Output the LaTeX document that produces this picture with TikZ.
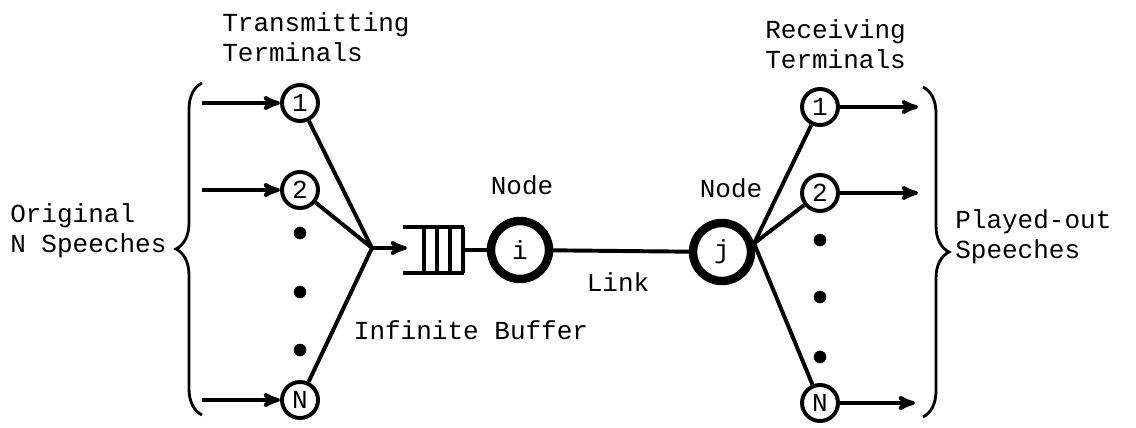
\documentclass[tikz,border=0pt]{standalone}
\usepackage{fontspec}
\setmonofont{Liberation Mono}
\usepackage{tikz}
\usetikzlibrary{calc}
\usetikzlibrary{arrows}
\usetikzlibrary{decorations.pathreplacing}
\tikzset{term/.style={draw,circle,line width=2.8pt,minimum size=0.9cm,inner sep=0pt},
  relay/.style={draw,circle,line width=6pt,minimum size=1.45cm,inner sep=0pt},
  lbl/.style={font=\ttfamily\fontsize{18.5}{21.3}\selectfont,inner sep=0pt},
  wire/.style={black,line width=2.8pt},
  curly/.style={black,line width=2pt,decorate,decoration={brace,amplitude=0.65cm}}}

\begin{document}
\begin{tikzpicture} [x=0.025cm,y=-0.025cm,lbl]
\useasboundingbox (0,0) rectangle (1136,427);
% transmitting side
\node[lbl,align=left,anchor=west] (ttxt) at (222,37) {Transmitting\\Terminals};
\node[lbl,align=left,anchor=west] (otxt) at (10,231) {Original\\N Speeches};
\node[term] (t1) at (300,103) {1};
\node[term] (t2) at (300,190) {2};
\node[term] (tN) at (300,400) {N};
\foreach \y in {233,292,350} \filldraw (300,\y) circle (6);
\draw[curly] (202,415)--(202,83);
\draw[wire, ->, >=stealth'] (202,103)--(t1);
\draw[wire, ->, >=stealth'] (202,190)--(t2);
\draw[wire, ->, >=stealth'] (202,400)--(tN);
\coordinate (m) at (372,248);
\draw[wire] (t1)--(m) (t2)--(m) (tN)--(m);
% buffer
\coordinate (b) at (407,248);
\draw[wire, ->, >=stealth'] (m)--(b);
\draw[wire] (403,227)--(464,227) (403,273)--(464,273);
\foreach \x in {424,437,450,463} \draw[wire] (\x,227)--(\x,273);
\node[lbl] (btxt) at (471,330) {Infinite Buffer};
% nodes and link
\node[relay] (i) at (520,250) {i};
\node[relay] (j) at (722,252) {j};
\node[lbl] (ilbl) at (522,185) {Node};
\node[lbl] (jlbl) at (731,188) {Node};
\draw[wire] (463,250)--(i);
\draw[wire] (i)--(j);
\node[lbl] (ltxt) at (618,282) {Link};
% receiving side
\node[lbl,align=left,anchor=west] (rtxt) at (765,44) {Receiving\\Terminals};
\node[lbl,align=left,anchor=west] (ptxt) at (955,237) {Played-out\\Speeches};
\node[term] (r1) at (820,107) {1};
\node[term] (r2) at (820,193) {2};
\node[term] (rN) at (820,403) {N};
\foreach \y in {240,297,357} \filldraw (820,\y) circle (6);
\coordinate (jr) at (j.15);
\draw[wire] (jr)--(r1) (jr)--(r2) (jr)--(rN);
\draw[wire, ->, >=stealth'] (r1)--(918,107);
\draw[wire, ->, >=stealth'] (r2)--(918,193);
\draw[wire, ->, >=stealth'] (rN)--(915,403);
\draw[curly] (923,87)--(923,417);
\end{tikzpicture}
\end{document}
